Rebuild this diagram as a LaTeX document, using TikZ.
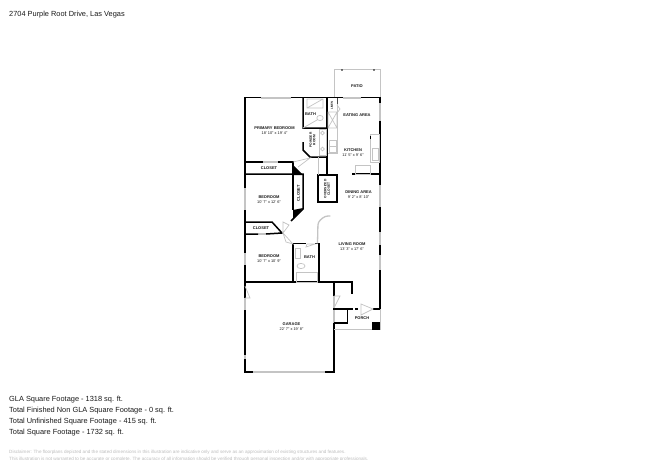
\documentclass[tikz,border=0pt]{standalone}
\usepackage{fontspec}
\setmainfont{Liberation Sans}
\definecolor{inkc}{HTML}{1A1A1A}
\definecolor{fix}{HTML}{C4C4C4}
\definecolor{disc}{HTML}{BEBEBE}
\tikzset{
 wall/.style={line width=1.5pt,black,line cap=butt,line join=miter},
 fixture/.style={line width=0.7pt,fix},
 win/.style={line width=1.4pt,fix},
 room/.style={font=\fontsize{4.0}{5}\selectfont\bfseries,inner sep=0pt,text=inkc},
 dimn/.style={font=\fontsize{3.9}{5}\selectfont,inner sep=0pt,text=inkc},
 tiny/.style={rotate=90,align=center,font=\fontsize{3.3}{3.7}\selectfont\bfseries,inner sep=0pt,text=inkc},
 sum/.style={font=\fontsize{7.4}{9}\selectfont,inner sep=0pt,anchor=west,text=inkc},
 disclaimer/.style={anchor=west,inner sep=0pt,font=\fontsize{4.6}{5}\selectfont,text=disc},
}
\begin{document}
\begin{tikzpicture}[x=1pt,y=-1pt]
\useasboundingbox (0,0) rectangle (650,460);
\fill[white] (0,0) rectangle (650,460);
\node[anchor=west,inner sep=0pt,font=\fontsize{7.4}{9}\selectfont,text=inkc] (title) at (9,15) {2704 Purple Root Drive, Las Vegas};
% patio
\draw[fixture] (334,98) -- (334,69.5) -- (380,69.5) -- (380,98);
\fill (342,70) circle (.8) (374,70) circle (.8);
% windows / gaps
\draw[win] (261,98) -- (291,98) (343,98) -- (361,98) (380,103) -- (380,121) (380,185) -- (380,207) (380,232) -- (380,245) (380,255) -- (380,270) (253,372) -- (325,372);
\draw[win] (245,298) -- (245,310) (245,355) -- (245,359) (245,188) -- (245,210) (245,253) -- (245,265);
\draw[win] (263,162) -- (278,162) (258,234) -- (266,234);
% main walls
\draw[wall] (245,162) -- (245,97.7) -- (261,97.7) (291,97.7) -- (343,97.7) (361,97.7) -- (380,97.7) -- (380,103);
\draw[wall] (245,162) -- (245,188) (245,210) -- (245,253) (245,265) -- (245,286);
\draw[wall] (380,121) -- (380,185) (380,207) -- (380,232) (380,245) -- (380,255) (380,270) -- (380,309) -- (373,309);
\draw[wall] (245,282) -- (352,282) -- (352,294);
\draw[wall] (245,286) -- (245,298) (245,310) -- (245,355) (245,359) -- (245,372) -- (253,372) (325,372) -- (334,372) -- (334,323) (334,296) -- (334,282);
\draw[win] (334,296) -- (334,309) (334,309) -- (334,323);
\draw[wall] (333,309) -- (353,309) (355,309) -- (358,309);
\draw[wall] (334,323) -- (347.5,323) -- (347.5,309);
% porch
\draw[fixture] (334,329) -- (380,329) -- (380,309);
\fill (372,322) rectangle (380,329.5);
% interior
\draw[wall] (303,98) -- (303,128) -- (327,128) (303,142) -- (303,150) -- (310,157) -- (327,157);
\draw[wall] (327,98) -- (327,175);
\draw[wall] (245,162) -- (263,162) (278,162) -- (293,162) -- (293,210);
\draw[wall] (245,174) -- (303,174) -- (303,209) -- (291,221);
\fill (293,165) -- (303,175) -- (293,175) -- cycle;
\fill (293,210) -- (303,208) -- (293,219) -- cycle;
\draw[wall] (318,175) -- (337,175) -- (337,202) -- (318,202) -- cycle;
\draw[wall] (352,174) -- (380,174);
\draw[wall] (245,222) -- (272,222) -- (282,233) -- (266,234) (258,234) -- (245,234);
\draw[wall] (293,282) -- (293,243.5) -- (306,243.5) (315,243.5) -- (319,243.5) -- (319,282);
% fixtures
\draw[fixture] (337,98) -- (337,153) -- (328,153);
\draw[fixture] (318,157) -- (318,175);
\draw[fixture] (329,140) rectangle (336,146) (329,146) rectangle (336,152);
\draw[fixture] (328,112) rectangle (337,128) (328,112) -- (337,128) (337,112) -- (328,128);
\draw[fixture] (337,105) -- (340,109) -- (337,113);
\draw[line width=.6pt,black!70] (337,98) -- (337,104);
\draw[fixture] (370,162) rectangle (379,134) (372,148) rectangle (378,160);
\draw[fixture] (355,174) rectangle (370,165);
\draw[line width=.8pt] (370,136) -- (370,139);
\draw[fixture] (307,99) rectangle (323,108) (307,108) -- (323,99);
\draw[fixture] (320,118) ellipse (3.2 and 2.6) (303,128) -- (317,120);
\draw[fixture] (319,129) rectangle (326,155);
\draw[fixture] (322.5,133) circle (1.8) (322.5,149) circle (1.8);
\draw[fixture] (293,162) -- (310,158) -- (298,167);
\draw[fixture] (283,233) -- (283,222) -- (289,225) -- cycle;
\draw[fixture] (283,233) -- (293,244) -- (286,242) -- cycle;
\draw[fixture] (306,247) -- (315,244) -- (307,244) -- cycle;
\draw[fixture] (295,248) rectangle (300,258) (296,272) rectangle (317,282);
\draw[fixture] (301,266) ellipse (4 and 2.6);
\draw[line width=1.3pt,fix,line cap=round,rounded corners=3pt] (317.5,243) -- (318,222) -- (325,216) -- (330,216);
\draw[fixture] (245,286) -- (250,298) -- (245,298);
\draw[fixture] (334,296) -- (340,296) -- (334,308);
\draw[fixture] (361,304) -- (373,309) -- (361,315) -- cycle;
% room labels
\node[room] (patio) at (357,86) {PATIO};
\node[room] (eat) at (357,115.5) {EATING AREA};
\node[room] (prim) at (274.5,128.5) {PRIMARY BEDROOM};
\node[dimn] (primd) at (274.5,133.5) {18' 10" x 19' 4"};
\node[room] (bath1) at (310.5,114) {BATH};
\node[tiny] (pow) at (312.5,140) {POWDER\\ROOM};
\node[tiny,font=\fontsize{2.8}{3}\selectfont\bfseries] (lin) at (332,105.5) {LINEN};
\node[room] (kit) at (353,150) {KITCHEN};
\node[dimn] (kitd) at (353,155) {11' 5" x 9' 6"};
\node[room] (cl1) at (269,168.5) {CLOSET};
\node[room,rotate=90] (cl2) at (298.5,193) {CLOSET};
\node[tiny] (over) at (327,189) {OVERSIZED\\CLOSET};
\node[room] (din) at (358.5,192.5) {DINING AREA};
\node[dimn] (dind) at (358.5,197.5) {9' 2" x 8' 10"};
\node[room] (bd1) at (269,197) {BEDROOM};
\node[dimn] (bd1d) at (269,202) {10' 7" x 12' 6"};
\node[room] (cl3) at (261,228.5) {CLOSET};
\node[room] (liv) at (352,244) {LIVING ROOM};
\node[dimn] (livd) at (352,249) {13' 3" x 17' 6"};
\node[room] (bd2) at (269,256.5) {BEDROOM};
\node[dimn] (bd2d) at (269,261.5) {10' 7" x 10' 9"};
\node[room] (bath2) at (309.5,257.5) {BATH};
\node[room] (gar) at (291.5,324) {GARAGE};
\node[dimn] (gard) at (291.5,329) {22' 7" x 19' 8"};
\node[room] (por) at (362,318) {PORCH};
% summary
\node[sum] (s1) at (9,399.7) {GLA Square Footage - 1318 sq. ft.};
\node[sum] (s2) at (9,411) {Total Finished Non GLA Square Footage - 0 sq. ft.};
\node[sum] (s3) at (9,421.7) {Total Unfinished Square Footage - 415 sq. ft.};
\node[sum] (s4) at (9,433) {Total Square Footage - 1732 sq. ft.};
\node[disclaimer] (d1) at (9,452.7) {Disclaimer: The floorplans depicted and the stated dimensions in this illustration are indicative only and serve as an approximation of existing structures and features.};
\node[disclaimer] (d2) at (9,459) {This illustration is not warranted to be accurate or complete. The accuracy of all information should be verified through personal inspection and/or with appropriate professionals.};
\end{tikzpicture}
\end{document}
